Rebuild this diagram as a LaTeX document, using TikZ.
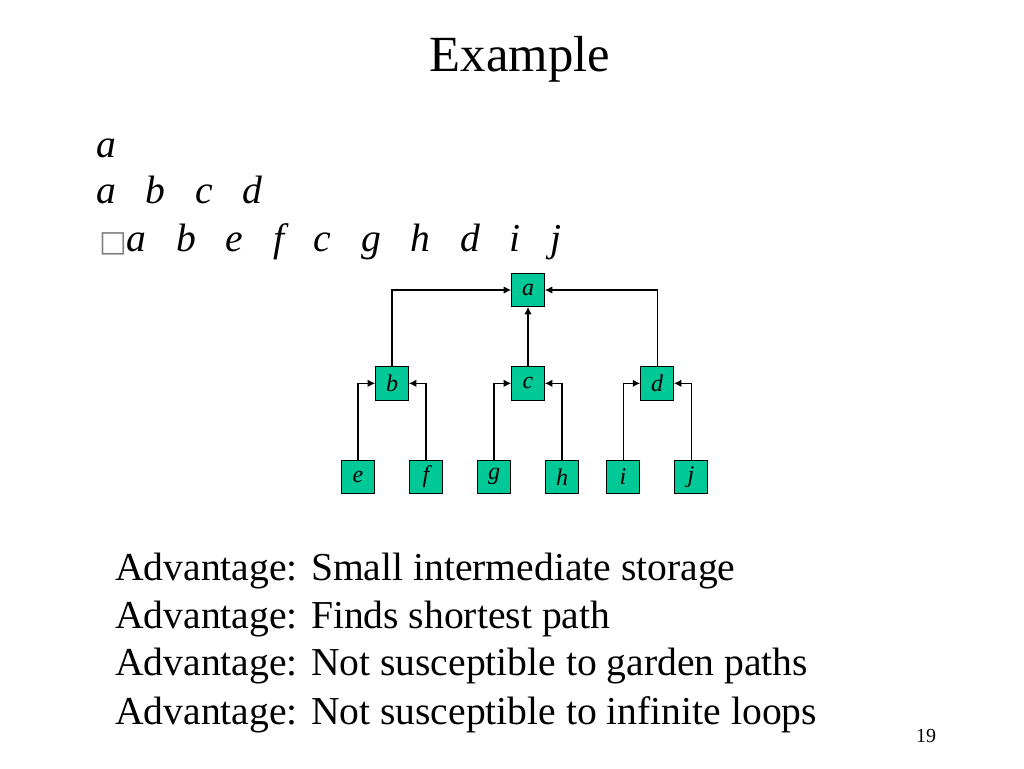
\documentclass[tikz,border=0pt]{standalone}
\usepackage{fontspec}
\setmainfont{Liberation Serif}
\newfontfamily\boxfont{DejaVu Sans}
\usetikzlibrary{arrows.meta}
\definecolor{nodegreen}{RGB}{0,200,150}
\tikzset{
	leaf/.style={rectangle,draw,fill=nodegreen,minimum size=25pt,inner sep=0pt,font=\fontsize{18}{18}\selectfont\itshape},
	up/.style={-{Latex[length=5.5pt,width=5.5pt]},line width=0.8pt},
	bigtext/.style={anchor=base west,inner sep=0pt,font=\fontsize{29.7}{36}\selectfont}
}
\begin{document}
\begin{tikzpicture}[x=0.75pt,y=-0.75pt,
			level distance=70pt,
			level 1/.style={sibling distance=99.4pt},
			level 2/.style={sibling distance=51pt},
			edge from parent path={}
		]
		\useasboundingbox (0,0) rectangle (1024,768);
		\node[anchor=base,font=\fontsize{38}{40}\selectfont] (title) at (520,71) {Example};
		\node[bigtext] (l1) at (96,157) {\itshape a};
		\node[bigtext] (l2) at (96,203) {\itshape a\ \ \ b\ \ \ c\ \ \ d};
		\node[bigtext] (l3) at (99,251) {{\fontsize{22}{22}\boxfont\color{gray}□}\itshape a\ \ \ b\ \ \ e\ \ \ f\ \ \ c\ \ \ g\ \ \ h\ \ \ d\ \ \ i\ \ \ j};
		% search tree
		\node[leaf] (a) at (528,290) {a}
		child[xshift=-2.6pt] {
				node[leaf] (b) {b}
				child {node[leaf] (e) {e}}
				child {node[leaf] (f) {f}}
			}
		child {
				node[leaf] (c) {c}
				child {node[leaf] (g) {g}}
				child {node[leaf] (h) {h}}
			}
		child[xshift=-2.6pt] {
				node[leaf] (d) {d}
				child {node[leaf] (i) {i}}
				child {node[leaf] (j) {j}}
			};
		\draw[up] (b.north) |- (a.west);
		\draw[up] (c.north) -- (a.south);
		\draw[up] (d.north) |- (a.east);
		\draw[up] (e.north) |- (b.west);
		\draw[up] (f.north) |- (b.east);
		\draw[up] (g.north) |- (c.west);
		\draw[up] (h.north) |- (c.east);
		\draw[up] (i.north) |- (d.west);
		\draw[up] (j.north) |- (d.east);
		% advantages
		\node[bigtext] (adv1) at (115,580) {Advantage: Small intermediate storage};
		\node[bigtext] (adv2) at (115,628) {Advantage: Finds shortest path};
		\node[bigtext] (adv3) at (115,675) {Advantage: Not susceptible to garden paths};
		\node[bigtext] (adv4) at (115,724) {Advantage: Not susceptible to infinite loops};
		\node[anchor=base,font=\fontsize{15}{15}\selectfont] (page) at (926,742) {19};
	\end{tikzpicture}
\end{document}
